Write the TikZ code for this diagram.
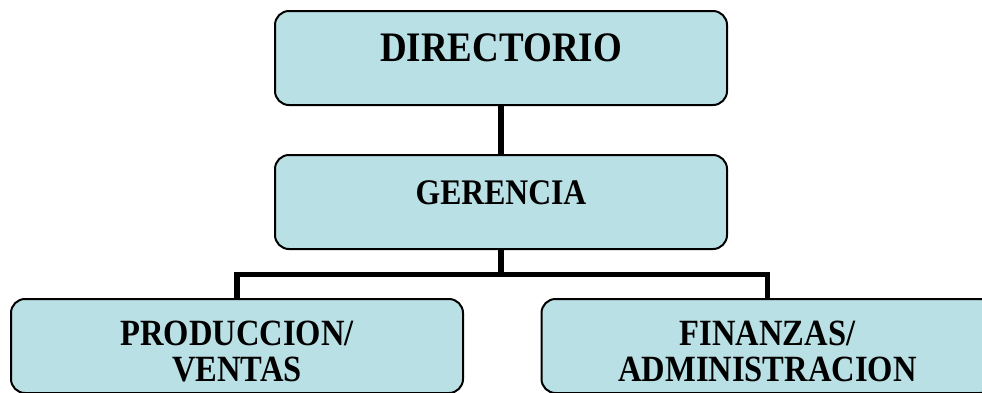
\documentclass[tikz,border=0pt]{standalone}
\usepackage{fontspec}
\newfontfamily\tfont[FakeStretch=0.88]{Liberation Serif}
\usetikzlibrary{calc}
\definecolor{boxfill}{RGB}{185,224,228}
\begin{document}
\begin{tikzpicture}[x=1pt,y=-1pt,
  orgbox/.style={draw=black, line width=2pt, fill=boxfill, rectangle,
    rounded corners=14pt, minimum width=452pt, minimum height=94pt, inner sep=0pt},
  conn/.style={draw=black, line width=5.5pt},
  bigtxt/.style={font=\tfont\bfseries\fontsize{42}{44}\selectfont, anchor=base, inner sep=0pt},
  midtxt/.style={font=\tfont\bfseries\fontsize{36}{38}\selectfont, anchor=base, inner sep=0pt},
  smltxt/.style={font=\tfont\bfseries\fontsize{37}{39}\selectfont, anchor=base, inner sep=0pt}]
\useasboundingbox (0,0) rectangle (982,392);
\node[orgbox] (dir) at (501,58) {};
\node[orgbox] (ger) at (501,202) {};
\node[orgbox] (prod) at (237,346) {};
\node[orgbox] (fin) at (767.5,346) {};
\coordinate (j) at (501,274.5);
\draw[conn] (dir.south) -- (ger.north);
\draw[conn] (ger.south) -- (j);
\draw[conn] (prod.north) |- (j) -| (fin.north);
\node[bigtxt] (tdir) at ($(dir.north)+(0,51)$) {DIRECTORIO};
\node[midtxt] (tger) at ($(ger.north)+(0,50)$) {GERENCIA};
\node[smltxt] (tprod1) at ($(prod.north)+(0,47)$) {PRODUCCION/};
\node[smltxt] (tprod2) at ($(prod.north)+(0,83)$) {VENTAS};
\node[smltxt] (tfin1) at ($(fin.north)+(0,47)$) {FINANZAS/};
\node[smltxt] (tfin2) at ($(fin.north)+(0,83)$) {ADMINISTRACION};
\end{tikzpicture}
\end{document}
